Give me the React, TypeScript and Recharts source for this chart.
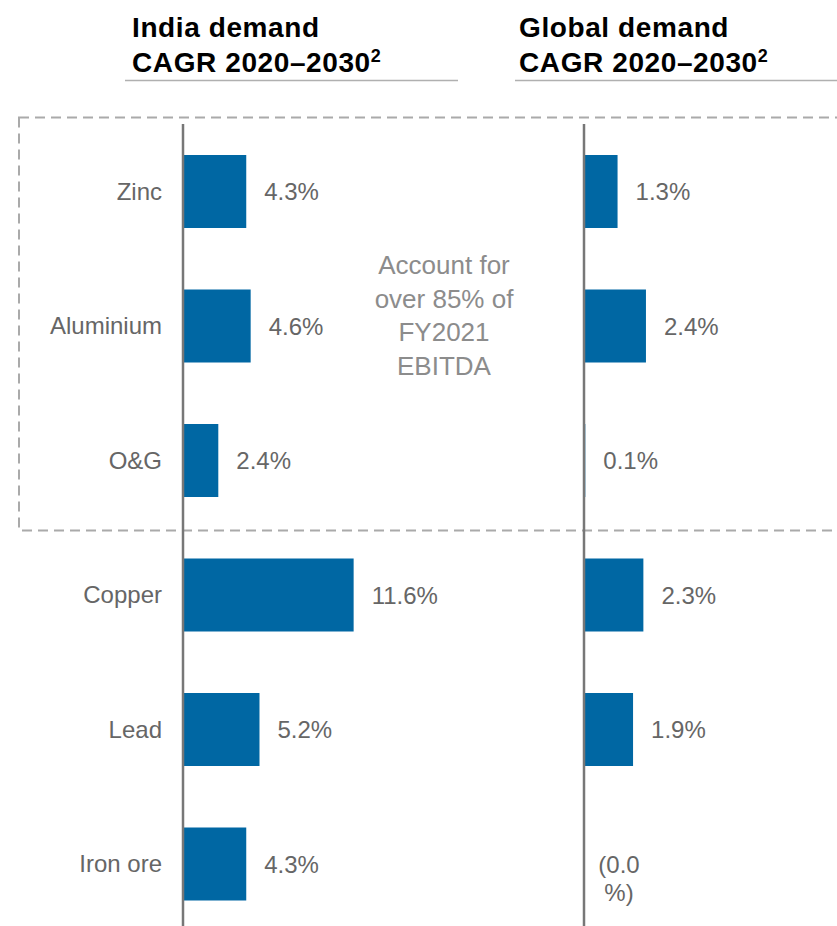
import React from "react";
import { BarChart, Bar, XAxis, YAxis, LabelList } from "recharts";

const categories = ["Zinc", "Aluminium", "O&G", "Copper", "Lead", "Iron ore"];
const indiaValues = [4.3, 4.6, 2.4, 11.6, 5.2, 4.3];
const globalValues = [1.3, 2.4, 0.05, 2.3, 1.9, -0.02];
const indiaLabels = ["4.3%", "4.6%", "2.4%", "11.6%", "5.2%", "4.3%"];
const globalLabels = ["1.3%", "2.4%", "0.1%", "2.3%", "1.9%", "(0.0%)"];
const noteLines = ["Account for", "over 85% of", "FY2021", "EBITDA"];

const data = categories.map((name, i) => ({
  name,
  india: indiaValues[i],
  global: globalValues[i],
  indiaLabel: indiaLabels[i],
  globalLabel: globalLabels[i],
}));

const FONT = "'Liberation Sans', Arial, Helvetica, sans-serif";
const BAR = "#0067a3";
const LABEL = "#666666";
const AXIS = "#777777";

const CatTick = (props: any) => {
  const { x, y, payload } = props;
  return (
    <text x={x - 13} y={y} textAnchor="end" dominantBaseline="central" fontSize={24} fill={LABEL} fontFamily={FONT}>
      {payload.value}
    </text>
  );
};

const ValueLabel = (props: any) => {
  const { x, y, width, height, value } = props;
  const ex = Math.max(Number(x), Number(x) + Number(width));
  const cy = Number(y) + Number(height) / 2;
  const s = String(value);
  if (s.length > 5) {
    return (
      <text textAnchor="middle" fontSize={24} fill={LABEL} fontFamily={FONT}>
        <tspan x={ex + 35} y={cy} dominantBaseline="central">{s.slice(0, 4)}</tspan>
        <tspan x={ex + 35} y={cy + 28} dominantBaseline="central">{s.slice(4)}</tspan>
      </text>
    );
  }
  return (
    <text x={ex + 18} y={cy} dominantBaseline="central" fontSize={24} fill={LABEL} fontFamily={FONT}>
      {s}
    </text>
  );
};

const Header = ({ x, lineX1, lineX2, first }: any) => (
  <g fontFamily={FONT} fontWeight="bold" fill="#000">
    <text x={x} y={37} fontSize={28} letterSpacing={0.6}>{first}</text>
    <text x={x} y={72} fontSize={28} letterSpacing={0.6}>
      CAGR 2020–2030<tspan fontSize={18} dy={-10}>2</tspan>
    </text>
    <line x1={lineX1} x2={lineX2} y1={80.5} y2={80.5} stroke="#b0b0b0" strokeWidth={1.5} />
  </g>
);

export default function App() {
  return (
    <div style={{ position: "absolute", left: 0, top: 0, width: 837, height: 926, overflow: "hidden", background: "#fff" }}>
      <svg width={837} height={926} style={{ position: "absolute", left: 0, top: 0 }}>
        <Header x={132} lineX1={125} lineX2={458} first="India demand" />
        <Header x={519} lineX1={515} lineX2={837} first="Global demand" />
        <rect x={19} y={117.5} width={840} height={413} fill="none" stroke="#aaaaaa" strokeWidth={2} strokeDasharray="10 6" />
        <text textAnchor="middle" fontSize={26} fill="#8c8c8c" fontFamily={FONT}>
          {noteLines.map((l, i) => (
            <tspan key={l} x={444} y={274 + i * 33.5}>{l}</tspan>
          ))}
        </text>
      </svg>
      <div style={{ position: "absolute", left: 0, top: 124 }}>
        <BarChart width={460} height={807} data={data} layout="vertical" margin={{ top: 0, right: 74, bottom: 0, left: 0 }}>
          <XAxis type="number" hide domain={[0, 13.8]} />
          <YAxis type="category" dataKey="name" width={183} axisLine={{ stroke: AXIS, strokeWidth: 2.5 }} tickLine={false} tick={<CatTick />} />
          <Bar dataKey="india" fill={BAR} barSize={73} isAnimationActive={false}>
            <LabelList dataKey="indiaLabel" content={<ValueLabel />} />
          </Bar>
        </BarChart>
      </div>
      <div style={{ position: "absolute", left: 400, top: 124 }}>
        <BarChart width={437} height={807} data={data} layout="vertical" margin={{ top: 0, right: 0, bottom: 0, left: 0 }}>
          <XAxis type="number" hide domain={[0, 9.8]} allowDataOverflow />
          <YAxis type="category" dataKey="name" width={184} axisLine={{ stroke: AXIS, strokeWidth: 2.5 }} tickLine={false} tick={false} />
          <Bar dataKey="global" fill={BAR} barSize={73} isAnimationActive={false}>
            <LabelList dataKey="globalLabel" content={<ValueLabel />} />
          </Bar>
        </BarChart>
      </div>
    </div>
  );
}
